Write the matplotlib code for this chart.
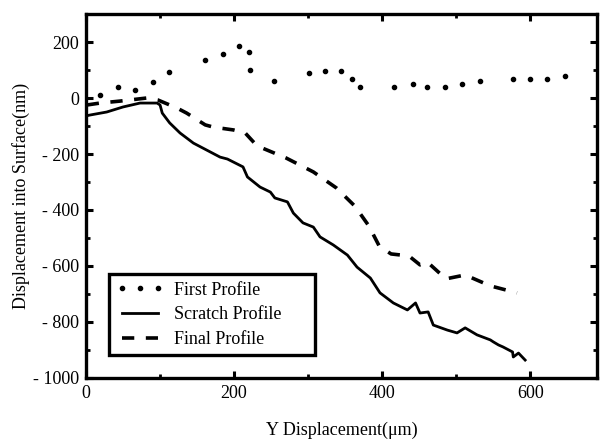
import numpy as np
import matplotlib
matplotlib.use('Agg')
import matplotlib.pyplot as plt
from matplotlib.ticker import MultipleLocator, FuncFormatter

# first profile (dots)
first_x = [19, 43, 66, 91, 112, 161, 185, 207, 220, 222, 254, 301, 323, 345,
           359, 370, 416, 442, 461, 485, 508, 532, 576, 600, 622, 647]
first_y = [11, 39, 29, 57, 93, 136, 157, 186, 164, 100, 61, 89, 96, 96,
           68, 39, 39, 50, 39, 39, 50, 61, 68, 68, 68, 79]

# scratch profile (solid)
scratch_x = [0, 5, 28, 50, 73, 96, 100, 103, 113, 127, 145, 163, 181, 191,
             212, 218, 235, 249, 255, 272, 280, 293, 307, 316, 334, 353, 366,
             384, 397, 415, 434, 445, 451, 462, 469, 488, 501, 512, 528, 546,
             550, 557, 563, 576, 577, 584, 593]
scratch_y = [-64, -61, -50, -32, -18, -18, -25, -54, -89, -125, -161, -186, -211, -218,
             -246, -282, -318, -336, -357, -371, -411, -446, -461, -496, -525, -561, -604,
             -643, -696, -732, -757, -732, -768, -764, -811, -829, -839, -821, -846, -864,
             -871, -882, -889, -907, -925, -911, -936]

# final profile (dashed)
final_x = [1, 19, 46, 82, 97, 123, 136, 161, 172, 199, 215, 231, 270, 307,
           338, 363, 382, 396, 412, 436, 451, 461, 486, 512, 546, 582]
final_y = [-25, -18, -11, 0, -7, -36, -54, -96, -104, -114, -125, -171, -214, -264,
           -321, -386, -457, -529, -557, -564, -596, -586, -646, -632, -671, -696]

plt.rcParams['font.family'] = ['Liberation Serif', 'DejaVu Serif']

fig = plt.figure(figsize=(6.01, 4.45), dpi=100)
ax = fig.add_axes([0.1431, 0.1506, 0.8502, 0.8179])

ax.plot(first_x, first_y, linestyle='none', marker='o', markersize=3,
        color='black', label='First Profile')
ax.plot(scratch_x, scratch_y, '-', color='black', linewidth=2, label='Scratch Profile')
ax.plot(final_x, final_y, color='black', linewidth=2.6, dashes=(3.4, 3.2),
        label='Final Profile')

ax.set_xlim(0, 690)
ax.set_ylim(-1000, 300)

ax.xaxis.set_major_locator(MultipleLocator(200))
ax.xaxis.set_minor_locator(MultipleLocator(100))
ax.yaxis.set_major_locator(MultipleLocator(200))
ax.yaxis.set_minor_locator(MultipleLocator(100))

def fmt(v, pos):
    v = int(round(v))
    if v < 0:
        return '- %d' % abs(v)
    return '%d' % v

ax.yaxis.set_major_formatter(FuncFormatter(fmt))
ax.xaxis.set_major_formatter(FuncFormatter(fmt))

ax.tick_params(which='both', direction='in', top=True, right=True, labelsize=13)
ax.tick_params(which='major', length=5, width=2.2, pad=5)
ax.tick_params(which='minor', length=3, width=2)

for s in ax.spines.values():
    s.set_linewidth(2.4)

ax.set_xlabel('Y Displacement(\u03bcm)', fontsize=13, labelpad=14)
ax.set_ylabel('Displacement into Surface(nm)', fontsize=13, labelpad=2)

leg = ax.legend(loc='lower left', bbox_to_anchor=(0.045, 0.063, 0.403, 0.225),
                mode='expand', borderaxespad=0,
                fontsize=13, fancybox=False, edgecolor='black', framealpha=1,
                numpoints=3, handlelength=2.6, labelspacing=0.42,
                borderpad=0.4, handletextpad=0.6)
leg.get_frame().set_linewidth(2.4)

fig.savefig('out.png', dpi=100)
